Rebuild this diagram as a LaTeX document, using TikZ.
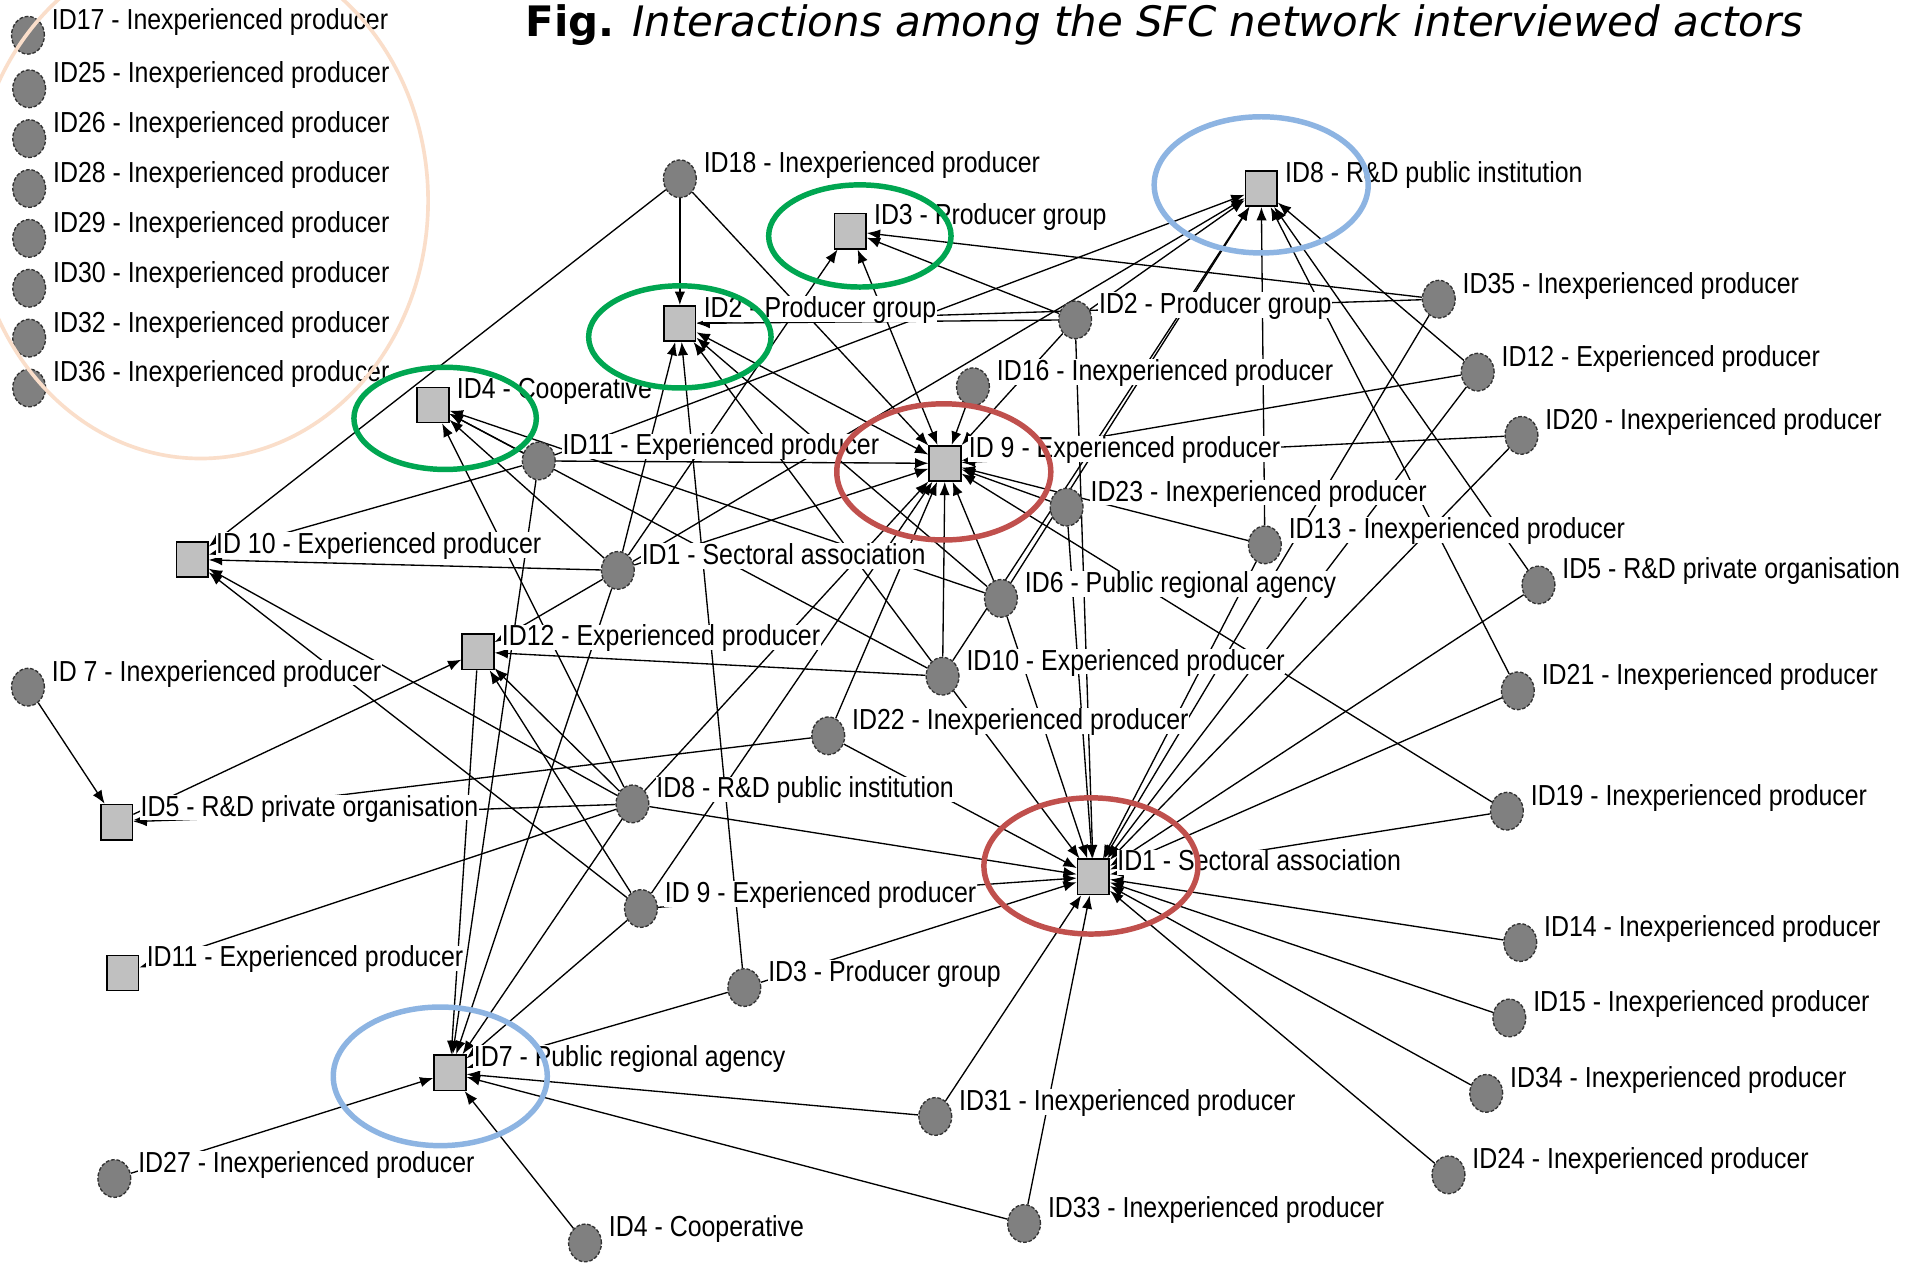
\documentclass[tikz,border=0pt]{standalone}
\usepackage{fontspec}
\usetikzlibrary{arrows.meta,shapes.geometric}
\newfontfamily\lfont[FakeStretch=0.86]{Liberation Sans}
\newfontfamily\tfont{DejaVu Sans}
\definecolor{hlgreen}{RGB}{0,166,81}
\definecolor{hlred}{RGB}{192,80,77}
\definecolor{hlblue}{RGB}{141,180,226}
\definecolor{hlpeach}{RGB}{250,222,202}
\definecolor{cfill}{RGB}{128,128,128}
\definecolor{cdraw}{RGB}{50,50,50}
\definecolor{sfill}{RGB}{192,192,192}
\pgfdeclarelayer{bglayer}
\pgfdeclarelayer{edgelayer}
\pgfdeclarelayer{labellayer}
\pgfdeclarelayer{toplayer}
\pgfsetlayers{bglayer,edgelayer,labellayer,main,toplayer}
\tikzset{
  sq/.style={rectangle, draw=black, line width=1.3pt, fill=sfill,
    minimum width=26pt, minimum height=29pt, inner sep=0pt},
  cn/.style={ellipse, draw=cdraw, dash pattern=on 3pt off 1.5pt, line width=1.1pt,
    fill=cfill, minimum width=27pt, minimum height=31pt, inner sep=0pt},
  lab/.style={anchor=base west, fill=white, inner sep=0.5pt, text height=17pt,
    text depth=3pt, font=\lfont\fontsize{23.8}{27}\selectfont},
  lnk/.style={line width=1.1pt, -{Latex[length=11pt,width=8.5pt]}},
  blnk/.style={line width=1.1pt, {Latex[length=11pt,width=8.5pt]}-{Latex[length=11pt,width=8.5pt]}},
  hl/.style={line width=4.5pt}
}
\newcommand\mkC[4]{\node[cn] (#1) at (#2,#3) {};
  \begin{pgfonlayer}{labellayer}\node[lab] (#1l) at (#2+19,#3-5) {#4};\end{pgfonlayer}}
\newcommand\mkQ[4]{\node[sq] (#1) at (#2,#3) {};
  \begin{pgfonlayer}{labellayer}\node[lab] (#1l) at (#2+19,#3-5) {#4};\end{pgfonlayer}}
\begin{document}
\begin{tikzpicture}[x=1pt,y=-1pt]
\begin{pgfonlayer}{bglayer}
\fill[white] (0,0) rectangle (1568,1038);
\end{pgfonlayer}
\useasboundingbox (0,0) rectangle (1568,1038);

% legend (isolated actors)
\mkC{l17}{23}{29}{ID17 - Inexperienced producer}
\mkC{l25}{24}{73}{ID25 - Inexperienced producer}
\mkC{l26}{24}{114}{ID26 - Inexperienced producer}
\mkC{l28}{24}{155}{ID28 - Inexperienced producer}
\mkC{l29}{24}{196}{ID29 - Inexperienced producer}
\mkC{l30}{24}{237}{ID30 - Inexperienced producer}
\mkC{l32}{24}{278}{ID32 - Inexperienced producer}
\mkC{l36}{24}{319}{ID36 - Inexperienced producer}

% interviewed actors (squares)
\mkQ{q3}{699}{190}{ID3 - Producer group}
\mkQ{q2}{559}{266}{ID2 - Producer group}
\mkQ{q4}{356}{333}{ID4 - Cooperative}
\mkQ{q9}{777}{381}{ID 9 - Experienced producer}
\mkQ{q8}{1037}{155}{ID8 - R\&D public institution}
\mkQ{q10}{158}{460}{ID 10 - Experienced producer}
\mkQ{q12}{393}{536}{ID12 - Experienced producer}
\mkQ{q5}{96}{676}{ID5 - R\&D private organisation}
\mkQ{q1}{899}{721}{ID1 - Sectoral association}
\mkQ{q11}{101}{800}{ID11 - Experienced producer}
\mkQ{q7}{370}{882}{ID7 - Public regional agency}

% other actors (circles)
\mkC{c18}{559}{147}{ID18 - Inexperienced producer}
\mkC{c2}{884}{263}{ID2 - Producer group}
\mkC{c16}{800}{318}{ID16 - Inexperienced producer}
\mkC{c11}{443}{379}{ID11 - Experienced producer}
\mkC{c23}{877}{417}{ID23 - Inexperienced producer}
\mkC{c13}{1040}{448}{ID13 - Inexperienced producer}
\mkC{c1}{508}{469}{ID1 - Sectoral association}
\mkC{c6}{823}{492}{ID6 - Public regional agency}
\mkC{c10}{775}{556}{ID10 - Experienced producer}
\mkC{c22}{681}{605}{ID22 - Inexperienced producer}
\mkC{c8}{520}{661}{ID8 - R\&D public institution}
\mkC{c9}{527}{747}{ID 9 - Experienced producer}
\mkC{c3}{612}{812}{ID3 - Producer group}
\mkC{c7}{23}{565}{ID 7 - Inexperienced producer}
\mkC{c27}{94}{969}{ID27 - Inexperienced producer}
\mkC{c4}{481}{1022}{ID4 - Cooperative}
\mkC{c31}{769}{918}{ID31 - Inexperienced producer}
\mkC{c33}{842}{1006}{ID33 - Inexperienced producer}
\mkC{c35}{1183}{246}{ID35 - Inexperienced producer}
\mkC{c12}{1215}{306}{ID12 - Experienced producer}
\mkC{c20}{1251}{358}{ID20 - Inexperienced producer}
\mkC{c5}{1265}{481}{ID5 - R\&D private organisation}
\mkC{c21}{1248}{568}{ID21 - Inexperienced producer}
\mkC{c19}{1239}{667}{ID19 - Inexperienced producer}
\mkC{c14}{1250}{775}{ID14 - Inexperienced producer}
\mkC{c15}{1241}{837}{ID15 - Inexperienced producer}
\mkC{c34}{1222}{899}{ID34 - Inexperienced producer}
\mkC{c24}{1191}{966}{ID24 - Inexperienced producer}

% connectors
\begin{pgfonlayer}{edgelayer}
\foreach \a/\b in {c18/q2, c18/q9, c18/q10,
  c2/q3, c2/q2, c2/q9, c2/q1, c2/q8,
  c35/q3, c35/q2, c35/q1, c16/q9,
  c11/q4, c11/q9, c11/q10, c11/q8, c11/q7,
  c1/q10, c1/q2, c1/q3, c1/q9, c1/q8, c1/q12, c1/q7, c1/q4,
  c23/q9, c23/q1, c13/q8, c13/q9, c13/q1,
  c6/q9, c6/q1, c6/q8, c6/q2, c6/q4,
  c10/q12, c10/q9, c10/q1, c10/q2, c10/q4, c10/q8,
  c22/q9, c22/q5, c22/q1,
  c8/q5, c8/q12, c8/q10, c8/q4, c8/q9, c8/q1, c8/q11, c8/q7,
  c9/q10, c9/q12, c9/q7, c9/q1, c9/q9,
  c3/q2, c3/q7, c3/q1, c31/q7, c31/q1, c33/q7, c33/q1,
  c27/q7, c4/q7, c7/q5,
  c12/q8, c12/q9, c12/q1, c20/q9, c20/q1, c5/q8, c5/q1,
  c21/q8, c21/q1, c19/q9, c19/q1,
  c14/q1, c15/q1, c34/q1, c24/q1,
  q5/q12, q12/q7}
  \draw[lnk] (\a) -- (\b);
\draw[blnk] (q2) -- (q9);
\draw[blnk] (q3) -- (q9);
\end{pgfonlayer}

% highlights and title
\begin{pgfonlayer}{toplayer}
\draw[line width=3pt, hlpeach] (165,165) ellipse [x radius=187pt, y radius=212pt];
\draw[hl, hlgreen] (707,194) ellipse [x radius=75pt, y radius=42pt];
\draw[hl, hlgreen] (559,277) ellipse [x radius=75pt, y radius=42pt];
\draw[hl, hlgreen] (366,344) ellipse [x radius=75pt, y radius=42pt];
\draw[hl, hlred] (776,388) ellipse [x radius=88pt, y radius=56pt];
\draw[hl, hlred] (897,712) ellipse [x radius=88pt, y radius=56pt];
\draw[hl, hlblue] (1037,152) ellipse [x radius=88pt, y radius=56pt];
\draw[hl, hlblue] (362,885) ellipse [x radius=88pt, y radius=57pt];
\node[anchor=base west, inner sep=0pt, font=\tfont\fontsize{34.5}{40}\selectfont] (title) at (432,30)
  {\textbf{Fig.} \textit{Interactions among the SFC network interviewed actors}};
\end{pgfonlayer}
\end{tikzpicture}
\end{document}
